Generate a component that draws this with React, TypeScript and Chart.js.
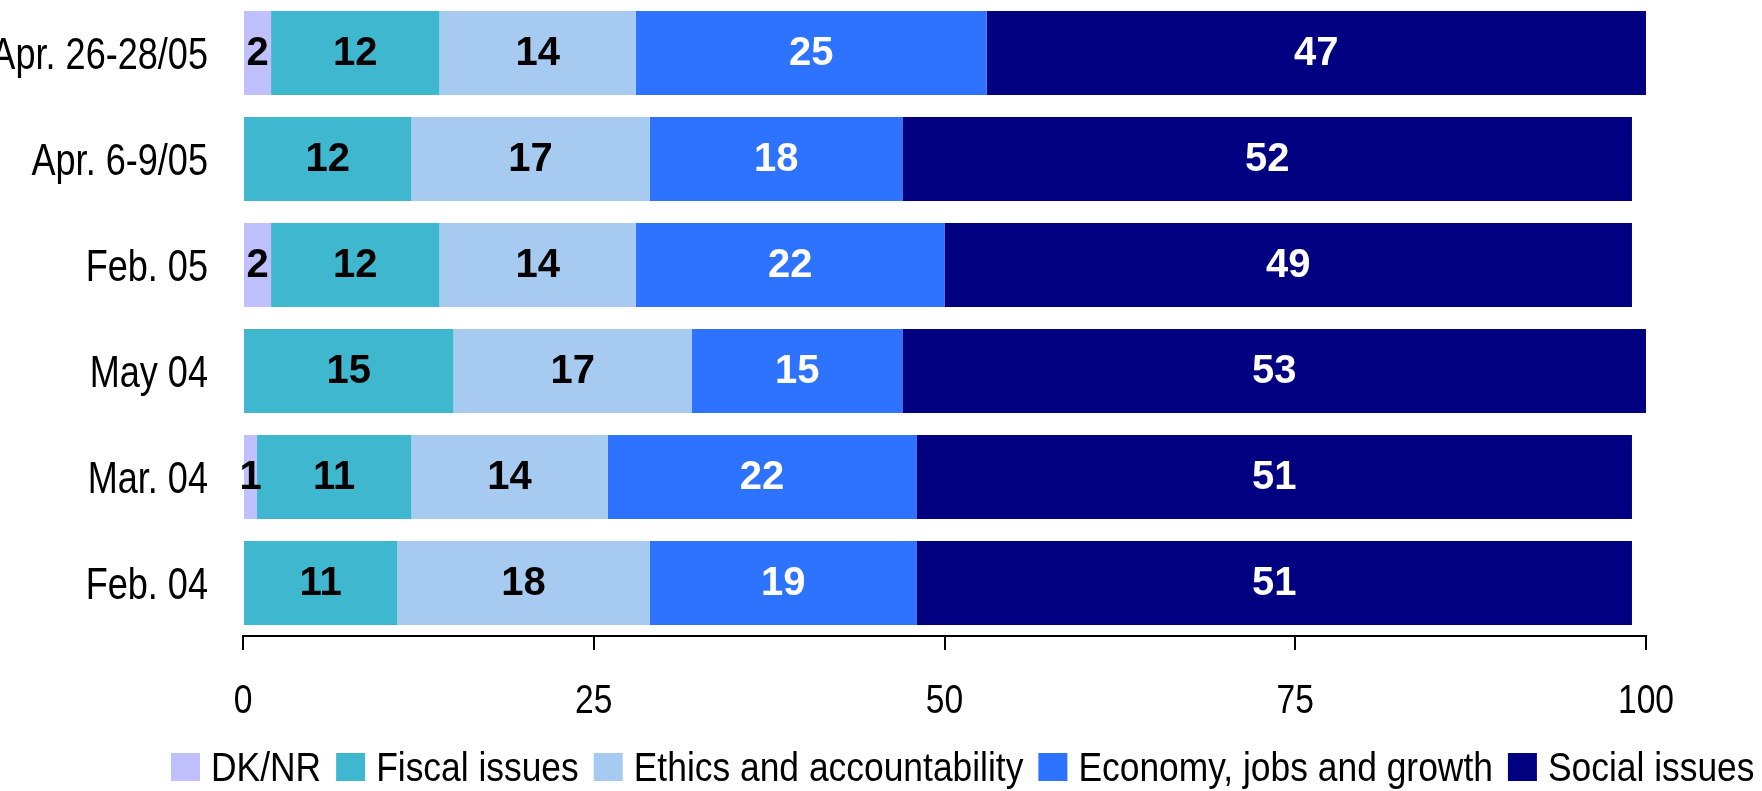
import React, { useEffect, useRef } from "react";
import { Chart, registerables } from "chart.js";

Chart.register(...registerables);

const categories = ["Apr. 26-28/05", "Apr. 6-9/05", "Feb. 05", "May 04", "Mar. 04", "Feb. 04"];
const seriesNames = ["DK/NR", "Fiscal issues", "Ethics and accountability", "Economy, jobs and growth", "Social issues"];
const dkNr = [2, 0, 2, 0, 1, 0];
const fiscal = [12, 12, 12, 15, 11, 11];
const ethics = [14, 17, 14, 17, 14, 18];
const economy = [25, 18, 22, 15, 22, 19];
const social = [47, 52, 49, 53, 51, 51];
const xTicks = [0, 25, 50, 75, 100];

const colors = ["#C0C0FF", "#3FB7CF", "#A6CAF0", "#2D73FF", "#000080"];
const labelColors = ["#000", "#000", "#000", "#fff", "#fff"];

const SANS = "'Liberation Sans', Arial, sans-serif";

function narrowText(ctx: any, text: string, x: number, y: number, size: number, align: "left" | "right" | "center", sx: number) {
  ctx.save();
  ctx.font = `${size}px ${SANS}`;
  ctx.textBaseline = "alphabetic";
  ctx.textAlign = align;
  ctx.translate(x, y);
  ctx.scale(sx, 1);
  ctx.fillText(text, 0, 0);
  ctx.restore();
}

function narrowWidth(ctx: any, text: string, size: number, sx: number) {
  ctx.save();
  ctx.font = `${size}px ${SANS}`;
  const w = ctx.measureText(text).width * sx;
  ctx.restore();
  return w;
}

const valueLabels = {
  id: "valueLabels",
  afterDatasetsDraw(chart: any) {
    const ctx = chart.ctx;
    ctx.save();
    ctx.font = `bold 40px ${SANS}`;
    ctx.textAlign = "center";
    ctx.textBaseline = "middle";
    chart.data.datasets.forEach((ds: any, di: number) => {
      const meta = chart.getDatasetMeta(di);
      meta.data.forEach((bar: any, i: number) => {
        const v = ds.data[i];
        if (!v) return;
        ctx.fillStyle = labelColors[di];
        ctx.fillText(String(v), (bar.x + bar.base) / 2, bar.y + 1);
      });
    });
    ctx.restore();
  },
};

const axisLabels = {
  id: "axisLabels",
  afterDraw(chart: any) {
    const ctx = chart.ctx;
    const xs = chart.scales.x;
    const ys = chart.scales.y;
    ctx.save();
    ctx.fillStyle = "#000";
    chart.data.labels.forEach((lab: string, i: number) => {
      const y = ys.getPixelForTick(i);
      narrowText(ctx, lab, ys.right - 35, y + 16, 44, "right", 0.82);
    });
    xs.ticks.forEach((t: any, i: number) => {
      const x = xs.getPixelForTick(i);
      narrowText(ctx, String(t.value), x, xs.top + 77, 40, "center", 0.84);
    });
    ctx.restore();
  },
};

const customLegend = {
  id: "customLegend",
  afterDraw(chart: any) {
    const ctx = chart.ctx;
    ctx.save();
    let x = 171;
    const boxTop = 753;
    const sx = 0.885;
    chart.data.datasets.forEach((ds: any) => {
      ctx.fillStyle = ds.backgroundColor;
      ctx.fillRect(x, boxTop, 29, 28);
      x += 29 + 11;
      ctx.fillStyle = "#000";
      narrowText(ctx, ds.label, x, 781, 40, "left", sx);
      x += narrowWidth(ctx, ds.label, 40, sx) + 15;
    });
    ctx.restore();
  },
};

export default function App() {
  const ref = useRef<HTMLCanvasElement | null>(null);
  useEffect(() => {
    if (!ref.current) return;
    const seriesData = [dkNr, fiscal, ethics, economy, social];
    const chart = new Chart(ref.current, {
      type: "bar",
      data: {
        labels: categories,
        datasets: seriesNames.map((name, i) => ({
          label: name,
          data: seriesData[i],
          backgroundColor: colors[i],
          borderWidth: 0,
          categoryPercentage: 1,
          barPercentage: 0.7925,
        })),
      },
      options: {
        indexAxis: "y",
        animation: false,
        responsive: false,
        maintainAspectRatio: false,
        layout: { padding: { left: 0, right: 116, top: 0, bottom: 0 } },
        plugins: {
          legend: { display: false },
          tooltip: { enabled: false },
        },
        scales: {
          x: {
            stacked: true,
            min: 0,
            max: 100,
            afterBuildTicks: (scale: any) => {
              scale.ticks = xTicks.map((v) => ({ value: v }));
            },
            afterFit: (scale: any) => {
              scale.height = 155;
              scale.paddingLeft = 0;
              scale.paddingRight = 0;
            },
            grid: {
              display: true,
              drawOnChartArea: false,
              drawTicks: true,
              tickLength: 14,
              color: "#000",
              lineWidth: 2,
            },
            border: { display: true, color: "#000", width: 2 },
            ticks: { display: false, autoSkip: false },
          },
          y: {
            stacked: true,
            afterFit: (scale: any) => {
              scale.width = 243;
              scale.paddingTop = 0;
              scale.paddingBottom = 0;
            },
            grid: { display: false },
            border: { display: false },
            ticks: { display: false, autoSkip: false },
          },
        },
      },
      plugins: [valueLabels, axisLabels, customLegend],
    });
    return () => chart.destroy();
  }, []);
  return (
    <div style={{ position: "absolute", left: 0, top: 0, width: 1762, height: 791 }}>
      <canvas ref={ref} width={1762} height={791} style={{ width: 1762, height: 791, display: "block" }} />
    </div>
  );
}
